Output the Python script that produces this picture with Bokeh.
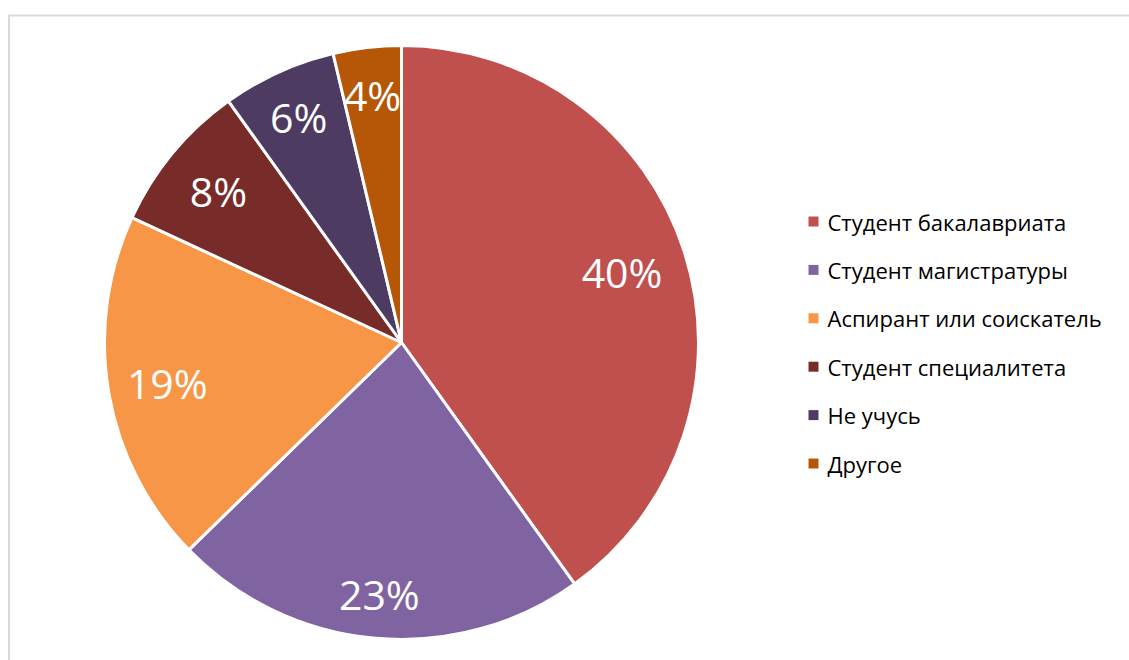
import math
from bokeh.plotting import figure
from bokeh.models import Range1d, ColumnDataSource
from bokeh.core.properties import value
from bokeh.embed import file_html
from bokeh.resources import INLINE

# ---- data ----
categories = ["Студент бакалавриата", "Студент магистратуры", "Аспирант или соискатель",
              "Студент специалитета", "Не учусь", "Другое"]
shares = [40.1, 22.6, 19.2, 8.2, 6.2, 3.7]
colors = ["#C0504D", "#8064A2", "#F79646", "#772C2A", "#4D3B62", "#B65708"]

# ---- layout ----
W, H = 1129, 660
CX, CY, R = 401.0, 318.0, 297.0
label_r = [0.78, 0.85, 0.80, 0.80, 0.835, 0.84]
LEG_X_SQ, LEG_X_TXT, LEG_TOP, LEG_STEP = 813.0, 827.0, 439.0, 48.4

p = figure(width=W, height=H, x_range=Range1d(0, W), y_range=Range1d(0, H),
           output_backend="svg", toolbar_location=None,
           x_axis_location=None, y_axis_location=None, min_border=0)
p.grid.visible = False
p.outline_line_color = None
p.background_fill_color = "white"
p.border_fill_color = "white"

# chart-area border (top/left visible, rest cropped)
p.line(x=[8.5, 8.5, W + 20], y=[-20, 645, 645], line_color="#D9D9D9", line_width=2)

total = sum(shares)
starts, ends, lx, ly, labels = [], [], [], [], []
cum = 0.0
for i, s in enumerate(shares):
    a0 = math.pi / 2 - 2 * math.pi * cum / total
    cum += s
    a1 = math.pi / 2 - 2 * math.pi * cum / total
    starts.append(a0)
    ends.append(a1)
    mid = (a0 + a1) / 2
    lx.append(CX + label_r[i] * R * math.cos(mid))
    ly.append(CY + label_r[i] * R * math.sin(mid))
    labels.append(f"{round(s)}%")

src = ColumnDataSource(dict(start=starts, end=ends, color=colors,
                            lx=lx, ly=ly, label=labels))
p.wedge(x=CX, y=CY, radius=R, start_angle="start", end_angle="end",
        direction="clock", fill_color="color", line_color="white",
        line_width=3, source=src)
p.text(x="lx", y="ly", text="label", source=src, text_color="white",
       text_font=value("Open Sans"), text_font_size="41px",
       text_align="center", text_baseline="middle")

# legend
leg_y = [LEG_TOP - i * LEG_STEP for i in range(len(categories))]
leg = ColumnDataSource(dict(y=leg_y, name=categories, color=colors))
p.rect(x=LEG_X_SQ, y="y", width=10, height=10, fill_color="color",
       line_color=None, source=leg)
p.text(x=LEG_X_TXT, y="y", text="name", source=leg, text_color="#000000",
       text_font=value("Open Sans"), text_font_size="22px",
       text_align="left", text_baseline="middle")

open("out.html", "w").write(file_html(p, INLINE))
